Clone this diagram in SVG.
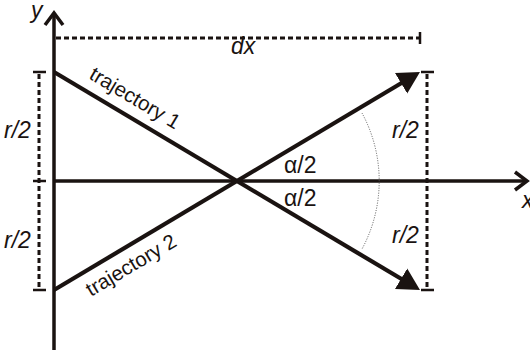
<svg xmlns="http://www.w3.org/2000/svg" width="530" height="352" viewBox="0 0 530 352">
<style>
  .axis{stroke:#1a1311;stroke-width:3.5;fill:none}
  .traj{stroke:#1a1311;stroke-width:4.2;fill:none}
  .dash{stroke:#1a1311;stroke-width:3;fill:none;stroke-dasharray:5 3}
  .tick{stroke:#1a1311;stroke-width:2.5;fill:none}
  .arc{stroke:#555;stroke-width:1;fill:none;stroke-dasharray:1 1.5}
  text{font-family:"Liberation Sans",Arial,sans-serif;fill:#1a1311}
  .it{font-style:italic;font-size:23px}
  .lbl{font-size:20.5px}
  .ang{font-size:23px}
</style>
<defs>
  <marker id="tri" markerUnits="userSpaceOnUse" viewBox="0 -13 24 26" refX="2" refY="0" markerWidth="24" markerHeight="26" orient="auto">
    <path d="M0,-12 L22,0 L0,12 Z" fill="#1a1311"/>
  </marker>
</defs>
<g id="axes">
  <path class="axis" d="M54,350 V13"/>
  <path class="axis" d="M45,25 L54,13 L63,25"/>
  <path class="axis" d="M54,181 H527"/>
  <path class="axis" d="M515,172 L527,181 L515,190"/>
  <text class="it" x="31" y="18">y</text>
  <text class="it" x="522" y="208">x</text>
</g>
<g id="dx-dim">
  <path class="dash" d="M56,38 H419"/>
  <path class="tick" d="M420,32 V44"/>
  <text class="it" x="231" y="54">dx</text>
</g>
<g id="left-dim">
  <path class="dash" d="M39,74 V288"/>
  <path class="tick" d="M33,72 H46 M33,181 H46 M33,290 H46"/>
  <text class="it" x="4" y="138">r/2</text>
  <text class="it" x="4" y="248">r/2</text>
</g>
<g id="right-dim">
  <path class="dash" d="M427,74 V288"/>
  <path class="tick" d="M421,72 H434 M421,290 H434"/>
  <text class="it" x="392" y="138">r/2</text>
  <text class="it" x="392" y="243">r/2</text>
</g>
<g id="connectors">
  <path id="trajectory1" class="traj" d="M54,72 L402.8,279.8" marker-end="url(#tri)"/>
  <path id="trajectory2" class="traj" d="M54,290 L402.8,82.2" marker-end="url(#tri)"/>
  <path class="arc" d="M362,113 A143,143 0 0 1 362,249"/>
</g>
<g id="labels">
  <text class="lbl" transform="translate(88,78) rotate(30.8)">trajectory 1</text>
  <text class="lbl" transform="translate(91,297) rotate(-30.8)">trajectory 2</text>
  <text class="ang" x="284" y="173">α/2</text>
  <text class="ang" x="284" y="206">α/2</text>
</g>
</svg>
